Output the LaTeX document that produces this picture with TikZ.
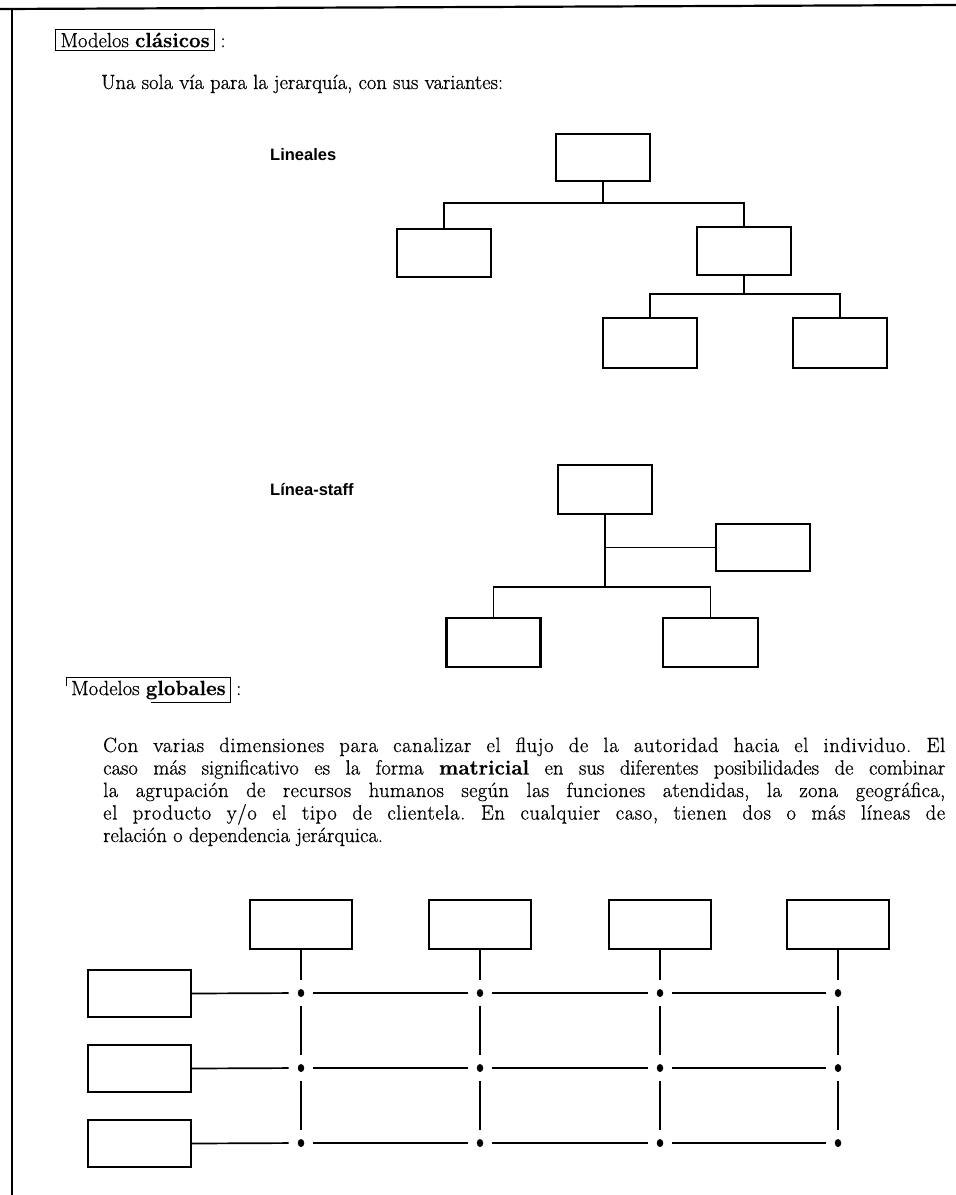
\documentclass[tikz,border=0pt]{standalone}
\usepackage{fontspec}
\usetikzlibrary{shapes.geometric}
\setmainfont{Latin Modern Roman}[UprightFeatures={FakeBold=0.7}, BoldFeatures={FakeBold=0.7}]
\newfontfamily\labelfont{Liberation Sans}
\frenchspacing
\newcommand{\spaced}[2]{{\addfontfeature{LetterSpace=#1}#2}}
\begin{document}
\begin{tikzpicture}[x=1pt,y=-1pt,
  orgbox/.style={draw, line width=2.1pt, inner sep=0pt, minimum width=94pt, minimum height=48pt},
  wbox/.style={orgbox, minimum width=102pt},
  link/.style={line width=1.7pt},
  dot/.style={ellipse, fill, inner sep=0pt, minimum width=6.5pt, minimum height=8pt},
  body/.style={anchor=base west, inner sep=0pt, font=\fontsize{20.6}{24}\selectfont},
  tag/.style={anchor=base west, inner sep=0pt, font=\labelfont\bfseries\fontsize{16.5}{18}\selectfont},
  gap/.style={link, shorten <=8.5pt, shorten >=8.5pt}
]
\useasboundingbox (0,0) rectangle (956,1195);

% page rules
\draw[line width=2.2pt] (0,9) -- (956,5);
\draw[line width=1.8pt] (12,8) -- (12,1195);

% ---- first heading
\node[body, anchor=west, draw, line width=1pt, inner xsep=5pt, inner ysep=3pt] (h1) at (55,40) {Modelos \textbf{clásicos}};
\node[body] (h1c) at ([xshift=5pt]h1.base east) {:};
\node[body] (intro) at (101,89) {Una sola vía para la jerarquía, con sus variantes:};

% ---- linear hierarchy
\node[tag] (tlin) at (270,160) {Lineales};
\node[orgbox, minimum height=47pt] (L0) at (603,157.5) {};
\node[orgbox] (L1) at (444,253) {};
\node[orgbox] (L2) at (744,251) {};
\node[orgbox, minimum height=50pt] (L3) at (650,343) {};
\node[orgbox, minimum height=50pt] (L4) at (840,343) {};
\coordinate (jL) at (603,203);
\coordinate (jR) at (744,294);
\draw[link] (L0.south) -- (jL);
\draw[link] (L1.north) |- (jL) -| (L2.north);
\draw[link] (L2.south) -- (jR);
\draw[link] (L3.north) |- (jR) -| (L4.north);

% ---- line and staff
\node[tag] (tstaff) at (270,495) {Línea-staff};
\node[orgbox, minimum height=49pt] (S0) at (605,489.5) {};
\node[orgbox, minimum height=47pt] (S1) at (763,547.5) {};
\node[orgbox, minimum height=49pt] (S2) at (493.5,642.5) {};
\node[orgbox, minimum height=49pt, minimum width=95pt] (S3) at (710.5,642.5) {};
\coordinate (jS) at (605,587);
\draw[link] (S0.south) -- (jS);
\draw[link] (S1.west) -- (S1.west -| S0.south);
\draw[link] (S2.north) |- (jS) -| (S3.north);

% ---- second heading
\node[body, anchor=west, inner xsep=5pt, inner ysep=3pt] (h2) at (66,690) {Modelos \textbf{globales}};
\node[body] (h2c) at ([xshift=5pt]h2.base east) {:};
\draw[line width=1pt] ([yshift=-8pt]h2.north west) -- (h2.north west) -- (h2.north east) -- (h2.south east) -- ++(-80,0);

% ---- paragraph
\node[body] (p1) at (103,752) {\makebox[842pt][s]{\spaced{3}{Con varias dimensiones para canalizar el flujo de la autoridad hacia el individuo. El}}};
\node[body] (p2) at (103,774.5) {\makebox[842pt][s]{caso más significativo es la forma \textbf{matricial} en sus diferentes posibilidades de combinar}};
\node[body] (p3) at (103,797) {\makebox[842pt][s]{\spaced{1.5}{la agrupación de recursos humanos según las funciones atendidas, la zona geográfica,}}};
\node[body] (p4) at (103,819.5) {\makebox[842pt][s]{\spaced{3}{el producto y/o el tipo de clientela. En cualquier caso, tienen dos o más líneas de}}};
\node[body] (p5) at (103,842) {relación o dependencia jerárquica.};

% ---- matrix organisation
\foreach \i/\x in {1/301,2/480,3/660,4/838} {
  \node[wbox, minimum height=49pt] (M\i) at (\x,924.5) {};
  \foreach \j/\y in {1/993,2/1068,3/1143} {
    \node[dot] (d\i\j) at (\x,\y) {};
  }
}
\foreach \j/\y in {1/993.5,2/1068.5,3/1143.5} {
  \node[wbox, minimum width=103pt, minimum height=47pt] (R\j) at (139.5,\y) {};
}
% columns
\foreach \i in {1,...,4} {
  \draw[link, shorten >=8.5pt] (M\i.south) -- (d\i1);
  \draw[gap] (d\i1) -- (d\i2);
  \draw[gap] (d\i2) -- (d\i3);
}
% rows
\foreach \j in {1,2,3} {
  \draw[link, shorten >=9pt] (R\j.east) -- (d1\j);
  \draw[gap] (d1\j) -- (d2\j);
  \draw[gap] (d2\j) -- (d3\j);
  \draw[gap] (d3\j) -- (d4\j);
}
\end{tikzpicture}
\end{document}
